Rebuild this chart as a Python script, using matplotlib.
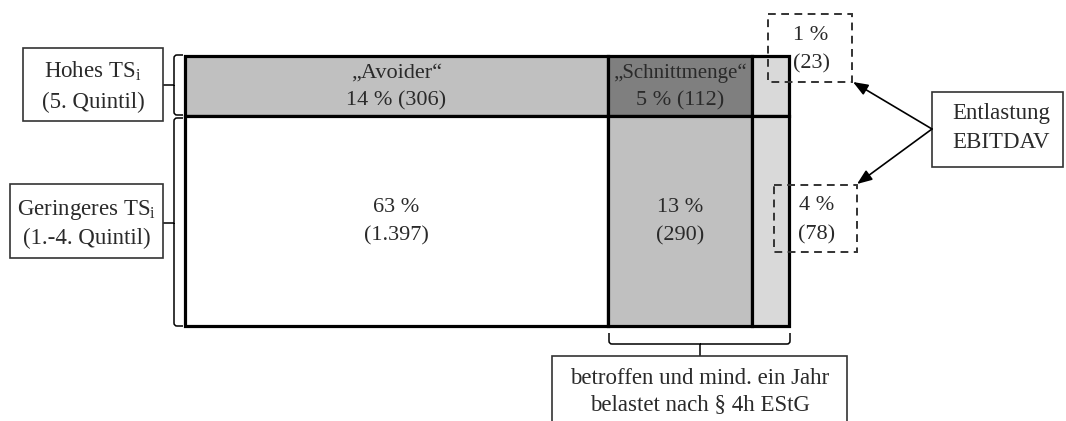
import matplotlib
matplotlib.use("Agg")
import matplotlib.pyplot as plt
from matplotlib.patches import Rectangle
from matplotlib.path import Path
from matplotlib.patches import PathPatch

plt.rcParams['font.family'] = ['Liberation Serif', 'DejaVu Serif']
plt.rcParams['mathtext.fontset'] = 'custom'
plt.rcParams['mathtext.rm'] = 'Liberation Serif'
plt.rcParams['mathtext.it'] = 'Liberation Serif:italic'

# ---- data ----
row_names = ["Hohes TS$_\\mathrm{i}$", "Geringeres TS$_\\mathrm{i}$"]
row_quintils = ["(5. Quintil)", "(1.-4. Quintil)"]
top_names = ["\u201eAvoider\u201c", "\u201eSchnittmenge\u201c"]
shares = [[14, 5, 1], [63, 13, 4]]
counts = [[306, 112, 23], [1397, 290, 78]]
cell_colors = [["#c0c0c0", "#7f7f7f", "#d9d9d9"],
               ["#ffffff", "#c0c0c0", "#d9d9d9"]]
relief_label = ["Entlastung", "EBITDAV"]
bottom_label = ["betroffen und mind. ein Jahr", "belastet nach \u00a7 4h EStG"]

# ---- layout (pixel-like axes units) ----
col_edges = [185, 608, 752, 789]
row_edges = [56, 116, 326]
TXT = "#2a2a2a"
FS = 16.5
FS_CELL = 16
name_sizes = [16, 15]

fig = plt.figure(figsize=(10.66, 4.21), dpi=100)
ax = fig.add_axes([0, 0, 1, 1])
ax.set_xlim(0, 1066)
ax.set_ylim(421, 0)
ax.axis("off")


def fmt_count(n):
    return f"{n:,}".replace(",", ".")


# cells
for r in range(2):
    for c in range(3):
        x0, x1 = col_edges[c], col_edges[c + 1]
        y0, y1 = row_edges[r], row_edges[r + 1]
        ax.add_patch(Rectangle((x0, y0), x1 - x0, y1 - y0, facecolor=cell_colors[r][c],
                               edgecolor="black", linewidth=2.3, zorder=2))

# cell texts
for c in range(2):
    xc = (col_edges[c] + col_edges[c + 1]) / 2
    ax.text(xc, 73, top_names[c], ha="center", va="center", fontsize=name_sizes[c], color=TXT, zorder=5)
    ax.text(xc, 101, f"{shares[0][c]} % ({fmt_count(counts[0][c])})", ha="center",
            va="center", fontsize=FS_CELL, color=TXT, zorder=5)
    ax.text(xc, 208, f"{shares[1][c]} %", ha="center", va="center", fontsize=FS_CELL, color=TXT, zorder=5)
    ax.text(xc, 236, f"({fmt_count(counts[1][c])})", ha="center", va="center", fontsize=FS_CELL,
            color=TXT, zorder=5)

# dashed boxes for the small right column
dash_boxes = [(768, 14, 852, 82), (774, 185, 857, 252)]
for r, (x0, y0, x1, y1) in enumerate(dash_boxes):
    ax.add_patch(Rectangle((x0, y0), x1 - x0, y1 - y0, facecolor="none", edgecolor="#333333",
                           linewidth=1.4, linestyle=(0, (4, 2.8)), zorder=6))
    xc = (x0 + x1) / 2 + 1
    ax.text(xc, y0 + 21, f"{shares[r][2]} %", ha="center", va="center", fontsize=FS_CELL, color=TXT, zorder=7)
    ax.text(xc, y0 + 50, f"({counts[r][2]})", ha="center", va="center", fontsize=FS_CELL, color=TXT, zorder=7)

# Entlastung box + arrows
ax.add_patch(Rectangle((932, 92), 131, 75, facecolor="white", edgecolor="#333333", linewidth=1.2, zorder=6))
ax.text(1001, 113, relief_label[0], ha="center", va="center", fontsize=FS, color=TXT, zorder=7)
ax.text(1001, 143, relief_label[1], ha="center", va="center", fontsize=FS, color=TXT, zorder=7)
for tip in [(853, 82), (857, 184)]:
    ax.annotate("", xy=tip, xytext=(932, 129),
                arrowprops=dict(arrowstyle="-|>,head_length=0.9,head_width=0.35",
                                color="black", lw=1.2, shrinkA=0, shrinkB=0), zorder=6)

# left label boxes
label_boxes = [(23, 48, 163, 121), (10, 184, 163, 258)]
label_offsets = [(-13, 18), (-11, 17)]
for r, (x0, y0, x1, y1) in enumerate(label_boxes):
    ax.add_patch(Rectangle((x0, y0), x1 - x0, y1 - y0, facecolor="white", edgecolor="#333333",
                           linewidth=1.2, zorder=6))
    xc = (x0 + x1) / 2
    yc = (y0 + y1) / 2
    ax.text(xc, yc + label_offsets[r][0], row_names[r], ha="center", va="center", fontsize=FS,
            color=TXT, zorder=7)
    ax.text(xc, yc + label_offsets[r][1], row_quintils[r], ha="center", va="center", fontsize=FS,
            color=TXT, zorder=7)


def brace_v(x_spine, x_arm, x_tip, y0, y1, ymid, rad=3):
    verts = [(x_arm, y0), (x_spine + rad, y0), (x_spine, y0), (x_spine, y0 + rad),
             (x_spine, ymid - rad), (x_spine, ymid), (x_tip, ymid),
             (x_spine, ymid), (x_spine, ymid + rad),
             (x_spine, y1 - rad), (x_spine, y1), (x_spine + rad, y1), (x_arm, y1)]
    codes = [Path.MOVETO, Path.LINETO, Path.CURVE3, Path.CURVE3,
             Path.LINETO, Path.LINETO, Path.LINETO,
             Path.MOVETO, Path.LINETO,
             Path.LINETO, Path.CURVE3, Path.CURVE3, Path.LINETO]
    ax.add_patch(PathPatch(Path(verts, codes), facecolor="none", edgecolor="black", lw=1.1, zorder=4))


def brace_h(y_spine, y_arm, y_tip, x0, x1, xmid, rad=3):
    verts = [(x0, y_arm), (x0, y_spine - rad), (x0, y_spine), (x0 + rad, y_spine),
             (xmid, y_spine), (xmid, y_tip),
             (xmid, y_spine), (x1 - rad, y_spine), (x1, y_spine), (x1, y_spine - rad), (x1, y_arm)]
    codes = [Path.MOVETO, Path.LINETO, Path.CURVE3, Path.CURVE3,
             Path.LINETO, Path.LINETO,
             Path.MOVETO, Path.LINETO, Path.CURVE3, Path.CURVE3, Path.LINETO]
    ax.add_patch(PathPatch(Path(verts, codes), facecolor="none", edgecolor="black", lw=1.1, zorder=4))


brace_v(174, 183, 163, 55, 115, 85)
brace_v(174, 183, 163, 118, 326, 223)
brace_h(344, 333, 356, 609, 790, 700)

# bottom label box
ax.add_patch(Rectangle((552, 356), 295, 80, facecolor="white", edgecolor="#333333", linewidth=1.2,
                       zorder=6, clip_on=True))
ax.text(700, 378, bottom_label[0], ha="center", va="center", fontsize=FS, color=TXT, zorder=7)
ax.text(700, 405, bottom_label[1], ha="center", va="center", fontsize=FS, color=TXT, zorder=7)

fig.savefig("out.png", dpi=100)
